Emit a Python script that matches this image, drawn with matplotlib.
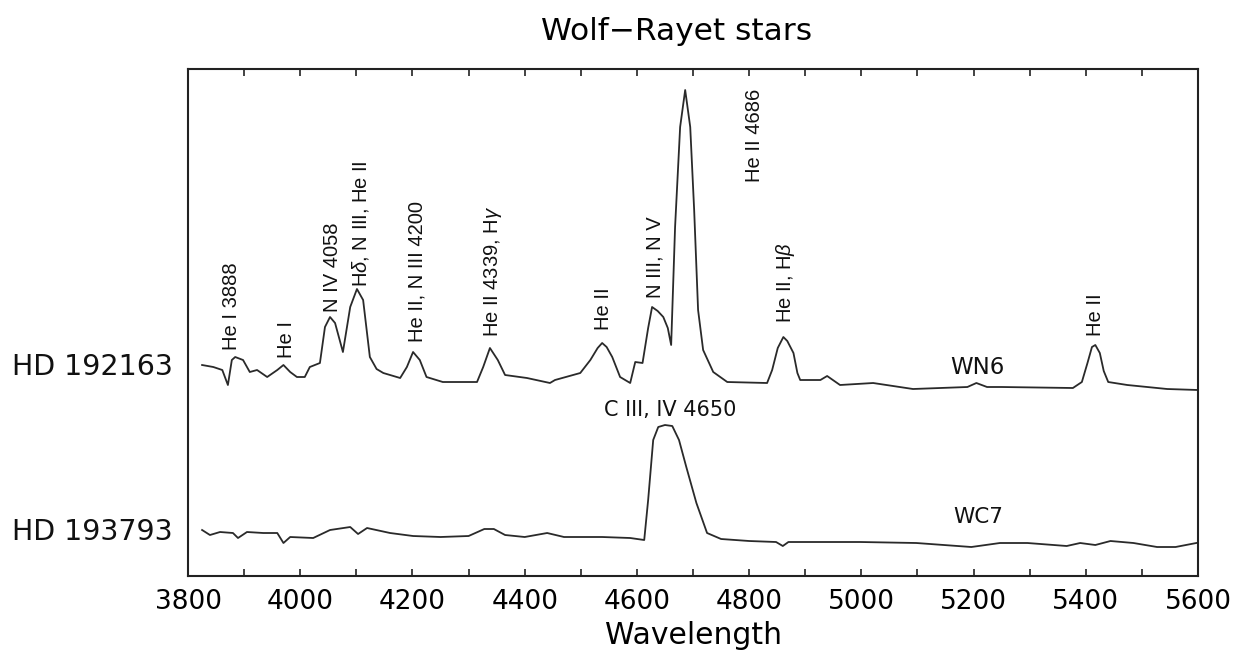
import numpy as np
import matplotlib
matplotlib.use("Agg")
import matplotlib.pyplot as plt
import matplotlib.transforms as mtransforms

plt.rcParams['font.family'] = ['DejaVu Sans']
plt.rcParams['mathtext.fontset'] = 'custom'
plt.rcParams['mathtext.rm'] = 'Liberation Sans'
plt.rcParams['mathtext.it'] = 'Liberation Sans:italic'

# WN6 spectrum (HD 192163), normalised flux, continuum ~1
wn6_wave = [3825, 3845, 3861, 3871, 3878, 3884, 3898, 3910, 3923, 3941, 3959, 3970,
            3982, 3994, 4008, 4017, 4035, 4044, 4053, 4062, 4076, 4089, 4101, 4112,
            4124, 4136, 4148, 4178, 4190, 4201, 4213, 4225, 4254, 4315, 4326, 4338,
            4352, 4365, 4404, 4445, 4454, 4499, 4517, 4530, 4538, 4546, 4556, 4570,
            4588, 4597, 4610, 4620, 4627, 4637, 4647, 4655, 4661, 4668, 4677, 4686,
            4695, 4702, 4709, 4718, 4736, 4761, 4832, 4841, 4851, 4861, 4868, 4879,
            4886, 4891, 4927, 4939, 4962, 5021, 5092, 5189, 5205, 5224, 5250, 5377,
            5393, 5403, 5411, 5417, 5425, 5432, 5440, 5474, 5545, 5600]
wn6_flux = [1.18, 1.16, 1.13, 0.98, 1.23, 1.26, 1.23, 1.11, 1.13, 1.06, 1.13, 1.18,
            1.11, 1.06, 1.06, 1.16, 1.20, 1.56, 1.66, 1.60, 1.31, 1.76, 1.94, 1.83,
            1.26, 1.14, 1.10, 1.05, 1.16, 1.31, 1.23, 1.06, 1.01, 1.01, 1.16, 1.35,
            1.23, 1.08, 1.05, 1.00, 1.03, 1.10, 1.23, 1.35, 1.40, 1.36, 1.26, 1.06,
            1.00, 1.21, 1.20, 1.55, 1.76, 1.72, 1.66, 1.55, 1.38, 2.56, 3.56, 3.93,
            3.56, 2.73, 1.73, 1.33, 1.11, 1.01, 1.00, 1.13, 1.35, 1.46, 1.42, 1.30,
            1.10, 1.03, 1.03, 1.07, 0.98, 1.00, 0.94, 0.96, 1.00, 0.96, 0.96, 0.95,
            1.01, 1.20, 1.36, 1.38, 1.30, 1.12, 1.01, 0.98, 0.94, 0.93]

# WC7 spectrum (HD 193793)
wc7_wave = [3825, 3839, 3857, 3880, 3889, 3905, 3934, 3959, 3970, 3982, 4023, 4053,
            4089, 4103, 4119, 4160, 4201, 4250, 4300, 4328, 4345, 4365, 4400, 4440,
            4470, 4538, 4588, 4613, 4620, 4629, 4638, 4650, 4663, 4675, 4688, 4706,
            4725, 4750, 4800, 4848, 4860, 4870, 4998, 5098, 5196, 5247, 5296, 5366,
            5390, 5417, 5444, 5485, 5527, 5560, 5597]
wc7_flux = [1.10, 1.05, 1.08, 1.07, 1.02, 1.08, 1.07, 1.07, 0.97, 1.03, 1.02, 1.10,
            1.13, 1.06, 1.12, 1.07, 1.04, 1.03, 1.04, 1.11, 1.11, 1.05, 1.03, 1.07,
            1.03, 1.03, 1.02, 1.00, 1.40, 2.00, 2.13, 2.15, 2.14, 2.00, 1.73, 1.37,
            1.07, 1.01, 0.99, 0.98, 0.94, 0.98, 0.98, 0.97, 0.93, 0.97, 0.97, 0.94,
            0.97, 0.95, 0.99, 0.97, 0.93, 0.93, 0.97]

wn6_offset = 0.93
wc7_offset = -0.64

# line identifications: text, wavelength, height of label base
line_labels = ["He I 3888", "He I", "N IV 4058", r"H$\delta$, N III, He II",
               "He II, N III 4200", r"He II 4339, H$\gamma$", "He II", "N III, N V",
               "He II 4686", r"He II, H$\beta$", "He II"]
line_wave = [3878, 3976, 4057, 4107, 4208, 4344, 4540, 4632, 4810, 4864, 5417]
line_base = [2.26, 2.18, 2.64, 2.89, 2.34, 2.39, 2.46, 2.78, 3.94, 2.53, 2.40]

fig = plt.figure(figsize=(12.43, 6.51), dpi=100)
ax = fig.add_axes([0.1513, 0.1152, 0.8125, 0.7788])

ax.plot(wn6_wave, np.array(wn6_flux) + wn6_offset, color="#2a2a2a", lw=1.3)
ax.plot(wc7_wave, np.array(wc7_flux) + wc7_offset, color="#2a2a2a", lw=1.3)

for txt, w, b in zip(line_labels, line_wave, line_base):
    ax.text(w, b, txt, rotation=90, ha="center", va="bottom",
            fontsize=14.5, family="Liberation Sans", color="#111111")

ax.text(5206, 2.09, "WN6", ha="center", va="center", fontsize=16.5, color="#111111")
ax.text(4660, 1.66, "C III, IV 4650", ha="center", va="center", fontsize=15,
        color="#111111")
ax.text(5208, 0.59, "WC7", ha="center", va="center", fontsize=15.5, color="#111111")

trans = mtransforms.blended_transform_factory(ax.transAxes, ax.transData)
ax.text(-0.015, 2.09, "HD 192163", transform=trans, ha="right", va="center",
        fontsize=20.5, color="#111111")
ax.text(-0.015, 0.44, "HD 193793", transform=trans, ha="right", va="center",
        fontsize=20.5, color="#111111")

ax.set_xlim(3800, 5600)
ax.set_ylim(0, 5.07)
ax.set_xticks(np.arange(3800, 5601, 200))
ax.set_xticks(np.arange(3900, 5600, 200), minor=True)
ax.tick_params(axis="x", which="both", direction="in", length=5, width=1.2,
               top=True, labelsize=19, pad=9, color="#222222")
ax.set_yticks([])
for sp in ax.spines.values():
    sp.set_linewidth(1.5)
    sp.set_color("#222222")

ax.set_xlabel("Wavelength", fontsize=21.5, labelpad=5)
fig.text(677 / 1243, 1 - 32 / 651, "Wolf\u2212Rayet stars", ha="center", va="center",
         fontsize=22.5)

fig.savefig("out.png", dpi=100)
